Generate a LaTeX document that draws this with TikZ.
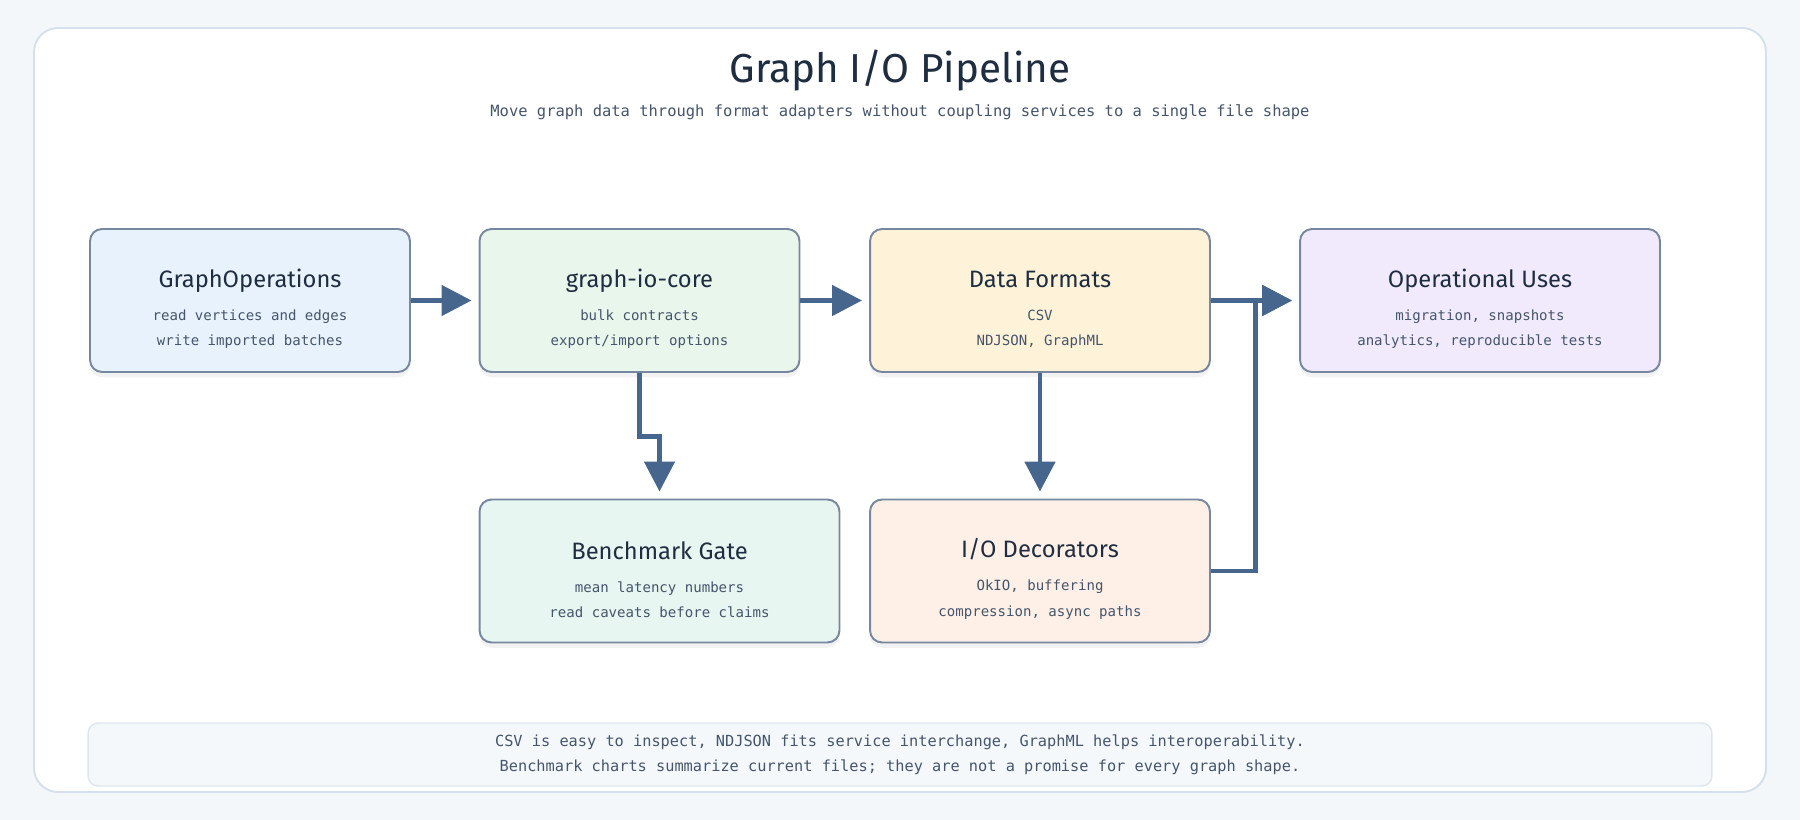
\documentclass[tikz,border=0pt]{standalone}
\usepackage{fontspec}
\setmainfont{Fira Sans}
\setmonofont{DejaVu Sans Mono}
\usetikzlibrary{arrows.meta, positioning, shadows}
\definecolor{pagebg}{HTML}{F4F7FA}
\definecolor{panelline}{HTML}{D5E0EC}
\definecolor{cardline}{HTML}{7887A0}
\definecolor{opsfill}{HTML}{E8F2FD}
\definecolor{corefill}{HTML}{E9F6EC}
\definecolor{fmtfill}{HTML}{FEF2D8}
\definecolor{usesfill}{HTML}{F1EAFD}
\definecolor{benchfill}{HTML}{E7F6F1}
\definecolor{decofill}{HTML}{FEF0E7}
\definecolor{footbg}{HTML}{F5F8FB}
\definecolor{footline}{HTML}{DDE6EF}
\definecolor{flowblue}{HTML}{46668E}
\definecolor{inkdark}{HTML}{1F2D40}
\definecolor{inksoft}{HTML}{45556B}
\newcommand{\cardhead}[1]{{\rmfamily\fontsize{13.5}{15}\selectfont\color{inkdark}\rule{0pt}{20pt}#1}}

\begin{document}
\begin{tikzpicture}[x=0.02cm, y=-0.02cm,
    card/.style={draw=cardline, line width=1.1pt, rounded corners=0.24cm,
      minimum height=2.86cm, align=center, text=inksoft,
      font=\ttfamily\fontsize{8}{14.5}\selectfont,
      drop shadow={shadow xshift=0pt, shadow yshift=-3pt, opacity=0.05, fill=black}},
    flow/.style={draw=flowblue, line width=2.8pt, shorten >=4pt,
      -{Triangle[length=17pt, width=17pt]}}]
  % page and panel
  \fill[pagebg] (0,0) rectangle (1800,820);
  \useasboundingbox (0,0) rectangle (1800,820);
  \draw[panelline, fill=white, line width=1.1pt, rounded corners=0.48cm] (34,28) rectangle (1766,792);

  \node[font=\rmfamily\fontsize{23}{27}\selectfont, text=inkdark] (title) at (900,71) {Graph I/O Pipeline};
  \node[font=\ttfamily\fontsize{8.8}{10}\selectfont, text=inksoft] (subtitle) at (900,112)
    {Move graph data through format adapters without coupling services to a single file shape};

  % cards
  \node[card, fill=opsfill, minimum width=6.4cm] (ops) at (250,300.5)
    {\cardhead{GraphOperations}\\[4.3pt]read vertices and edges\\write imported batches};
  \node[card, fill=corefill, minimum width=6.4cm] (core) at (639.5,300.5)
    {\cardhead{graph-io-core}\\[4.3pt]bulk contracts\\export/import options};
  \node[card, fill=fmtfill, minimum width=6.8cm] (fmt) at (1040,300.5)
    {\cardhead{Data Formats}\\[4.3pt]CSV\\NDJSON, GraphML};
  \node[card, fill=usesfill, minimum width=7.2cm] (uses) at (1480,300.5)
    {\cardhead{Operational Uses}\\[4.3pt]migration, snapshots\\analytics, reproducible tests};
  \node[card, fill=benchfill, minimum width=7.2cm] (bench) at (659.5,571)
    {\cardhead{Benchmark Gate}\\[4.3pt]mean latency numbers\\read caveats before claims};
  \node[card, fill=decofill, minimum width=6.8cm] (deco) at (1040,571)
    {\cardhead{I/O Decorators}\\[4.3pt]OkIO, buffering\\compression, async paths};

  % connectors
  \draw[flow] (ops.east) -- (core.west);
  \draw[flow] (core.east) -- (fmt.west);
  \draw[flow] (fmt.east) -- (uses.west);
  \draw[flow] (core.south) -- ++(0,64) -| (bench.north);
  \draw[flow] (fmt.south) -- (deco.north);
  \draw[flow] (deco.east) -- ++(45,0) |- (uses.west);

  % footnote
  \node[fill=footbg, draw=footline, line width=0.8pt, rounded corners=0.2cm,
    minimum width=32.48cm, minimum height=1.26cm, align=center, text=inksoft,
    font=\ttfamily\fontsize{8.7}{14.2}\selectfont] (note) at (900,754.5)
    {CSV is easy to inspect, NDJSON fits service interchange, GraphML helps interoperability.\\
     Benchmark charts summarize current files; they are not a promise for every graph shape.};
\end{tikzpicture}
\end{document}
